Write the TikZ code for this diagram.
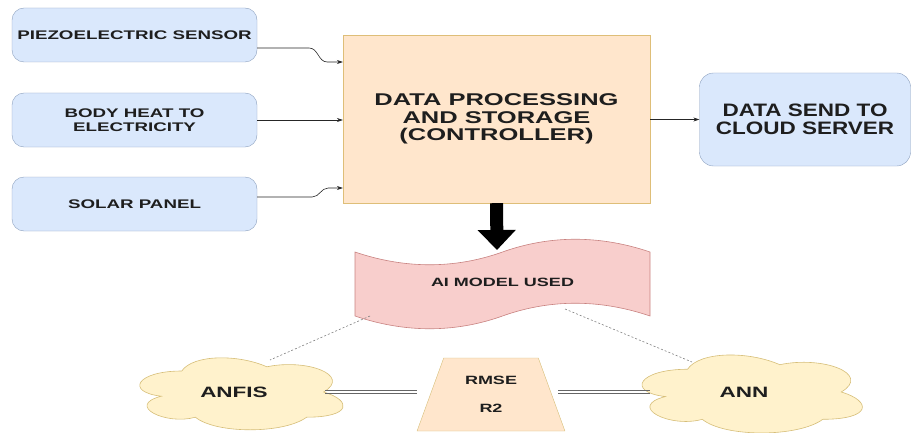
\documentclass[tikz,border=0pt]{standalone}
\usepackage{fontspec}
\setmainfont{Liberation Sans}
\newfontfamily\widefont{Liberation Sans}[FakeStretch=1.5]
\newfontfamily\semiwidefont{Liberation Sans}[FakeStretch=1.25]
\usepackage{tikz}
\usetikzlibrary{shapes.geometric, arrows.meta, positioning}

\definecolor{inblue}{RGB}{218,232,252}
\definecolor{inline}{RGB}{140,160,190}
\definecolor{ctrlfill}{RGB}{255,230,204}
\definecolor{ctrlline}{RGB}{222,190,120}
\definecolor{tapefill}{RGB}{248,206,204}
\definecolor{tapeline}{RGB}{200,130,128}
\definecolor{cloudfill}{RGB}{255,242,204}
\definecolor{cloudline}{RGB}{214,190,120}
\definecolor{txt}{RGB}{30,30,30}

\tikzset{
  inbox/.style={draw=inline, fill=inblue, rounded corners=12pt, minimum width=245pt,
    minimum height=54pt, align=center, text=txt,
    font=\widefont\bfseries\fontsize{12.5}{13.5}\selectfont},
  ctrlbox/.style={draw=ctrlline, fill=ctrlfill, minimum width=307pt, minimum height=168pt,
    align=center, text=txt, font=\widefont\bfseries\fontsize{17}{17.5}\selectfont},
  outbox/.style={draw=inline, fill=inblue, rounded corners=14pt, minimum width=211pt,
    minimum height=93pt, align=center, text=txt,
    font=\semiwidefont\bfseries\fontsize{18}{17.5}\selectfont},
  tapeshape/.style={draw=tapeline, fill=tapefill, line width=0.6pt},
  tapetext/.style={text=txt, font=\widefont\bfseries\fontsize{12}{13}\selectfont},
  modelcloud/.pic={
    \draw[draw=cloudline, fill=cloudfill, line width=0.6pt] (0.25,0.25)
      .. controls (0.05,0.25) and (0,0.5) .. (0.16,0.55)
      .. controls (0,0.66) and (0.18,0.9) .. (0.31,0.8)
      .. controls (0.4,1) and (0.7,1) .. (0.8,0.8)
      .. controls (1,0.8) and (1,0.6) .. (0.875,0.5)
      .. controls (1,0.3) and (0.8,0.1) .. (0.625,0.2)
      .. controls (0.5,0.05) and (0.3,0.05) .. (0.25,0.25) -- cycle;
  },
  cloudtext/.style={text=txt, font=\widefont\bfseries\fontsize{15}{16}\selectfont},
  metricbox/.style={trapezium, trapezium stretches=true, trapezium left angle=69,
    trapezium right angle=69, draw=cloudline, fill=ctrlfill, minimum width=148pt,
    minimum height=73pt, align=center, text=txt,
    font=\widefont\bfseries\fontsize{12}{28}\selectfont},
  feed/.style={-{Stealth[length=6pt,width=4pt]}, line width=0.6pt, black!85},
  dotlink/.style={draw=gray, dash pattern=on 2pt off 2pt, line width=0.6pt},
  twinline/.style={draw=gray!80!black, line width=0.8pt}
}

\begin{document}
\begin{tikzpicture}[x=1pt, y=-1pt]
\useasboundingbox (0,0) rectangle (912,433);

% energy sources
\node[inbox] (piezo) at (134.5,35) {PIEZOELECTRIC SENSOR};
\node[inbox] (heat) at (134.5,120) {BODY HEAT TO\\ELECTRICITY};
\node[inbox] (solar) at (134.5,204) {SOLAR PANEL};

% controller and output
\node[ctrlbox] (ctrl) at (496.5,119) {DATA PROCESSING\\AND STORAGE\\(CONTROLLER)};
\node[outbox] (server) at (805,119.5) {DATA SEND TO\\CLOUD SERVER};

% models
\draw[tapeshape] (355,252) .. controls (405,269) and (455,269) .. (502.5,252)
  .. controls (550,235) and (600,235) .. (650,252) -- (650,316)
  .. controls (600,299) and (550,299) .. (502.5,316)
  .. controls (455,333) and (405,333) .. (355,316) -- cycle;
\node[tapetext] (ai) at (502.5,282) {AI MODEL USED};
\coordinate (aitop) at (497,250);
\begin{scope}[shift={(125,350)}, x=227pt, y=-84pt]
  \pic at (0,0) {modelcloud};
\end{scope}
\node[cloudtext] (anfis) at (234,392) {ANFIS};
\begin{scope}[shift={(626,346.5)}, x=246pt, y=-91pt]
  \pic at (0,0) {modelcloud};
\end{scope}
\node[cloudtext] (ann) at (744,392) {ANN};
\node[metricbox] (metric) at (491,394.5) {RMSE\\R2};
\coordinate (aibl) at (370,316);
\coordinate (aibr) at (565,309);
\coordinate (anfistop) at (270,360);
\coordinate (anntop) at (692,362);
\coordinate (anfisr) at (325,392);
\coordinate (annl) at (650,392);
\coordinate (metricl) at (417,392);
\coordinate (metricr) at (558,392);

% connectors
\draw[feed] ([yshift=-13pt]piezo.east) -- ++(52,0) to[out=0,in=180] ++(18,14)
  -- ([yshift=57pt]ctrl.west);
\draw[feed] (heat.east) -- (heat.east -| ctrl.west);
\draw[feed] ([yshift=7pt]solar.east) -- ++(55,0) to[out=0,in=180] ++(16,-9)
  -- ([yshift=-69pt]ctrl.west);
\draw[feed] (ctrl.east |- server.west) -- (server.west);
\draw[line width=13pt, -{Triangle[width=37pt,length=20pt]}] (ctrl.south) -- (aitop);
\draw[dotlink] (aibl) -- (anfistop);
\draw[dotlink] (aibr) -- (anntop);
\draw[twinline] ([yshift=1.3pt]anfisr) -- ([yshift=1.3pt]metricl);
\draw[twinline] ([yshift=-1.3pt]anfisr) -- ([yshift=-1.3pt]metricl);
\draw[twinline] ([yshift=1.3pt]metricr) -- ([yshift=1.3pt]annl);
\draw[twinline] ([yshift=-1.3pt]metricr) -- ([yshift=-1.3pt]annl);
\end{tikzpicture}
\end{document}
